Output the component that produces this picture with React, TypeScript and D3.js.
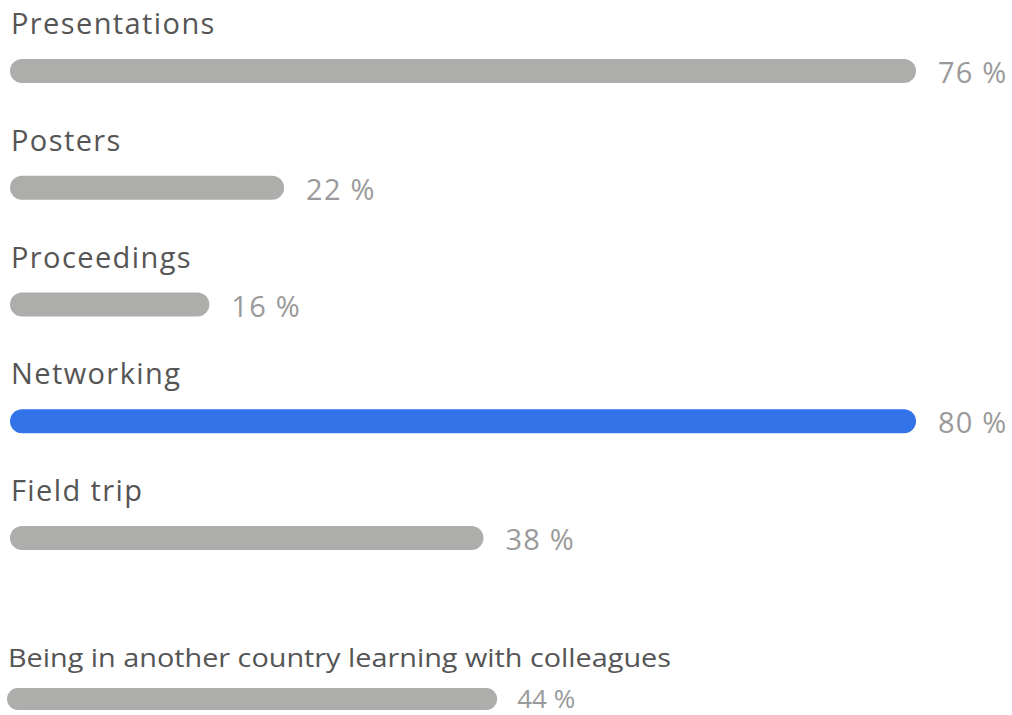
import React from "react";
import * as d3 from "d3";

const categories = ["Presentations", "Posters", "Proceedings", "Networking", "Field trip"];
const values = [76, 22, 16, 80, 38];
const highlighted = ["Networking"];

const extraCategories = ["Being in another country learning with colleagues"];
const extraValues = [44];

const W = 1012;
const H = 715;

export default function App() {
  const maxBar = 906;
  const x = d3.scaleLinear().domain([0, 100]).range([0, 1246]);
  const x2 = d3.scaleLinear().domain([0, 100]).range([0, 1114]);
  const y = d3.scalePoint<string>().domain(categories).range([59, 526]);
  const y2 = d3.scalePoint<string>().domain(extraCategories).range([688, 688]);

  return (
    <svg
      width={W}
      height={H}
      style={{ position: "absolute", left: 0, top: 0, background: "#fff" }}
      fontFamily="'Open Sans', sans-serif"
    >
      {categories.map((c, i) => {
        const by = y(c)!;
        const w = Math.min(x(values[i]), maxBar);
        const fill = highlighted.includes(c) ? "#3373EA" : "#ADADAC";
        return (
          <g key={c}>
            <text x={11} y={by - 25} fontSize={29} letterSpacing={1.4} fill="#555">
              {c}
            </text>
            <rect x={10} y={by} width={w} height={24} rx={12} ry={12} fill={fill} />
            <text x={10 + w + 22} y={by + 24} fontSize={29} letterSpacing={1.2} fill="#9a9a9a">
              {values[i]} %
            </text>
          </g>
        );
      })}
      {extraCategories.map((c, i) => {
        const by = y2(c)!;
        const w = x2(extraValues[i]);
        return (
          <g key={c}>
            <text x={8} y={by - 21} fontSize={25} fill="#555" textLength={663} lengthAdjust="spacingAndGlyphs">
              {c}
            </text>
            <rect x={7} y={by} width={w} height={22} rx={11} ry={11} fill="#ADADAC" />
            <text x={7 + w + 20} y={by + 20} fontSize={25} fill="#9a9a9a" textLength={58} lengthAdjust="spacingAndGlyphs">
              {extraValues[i]} %
            </text>
          </g>
        );
      })}
    </svg>
  );
}
